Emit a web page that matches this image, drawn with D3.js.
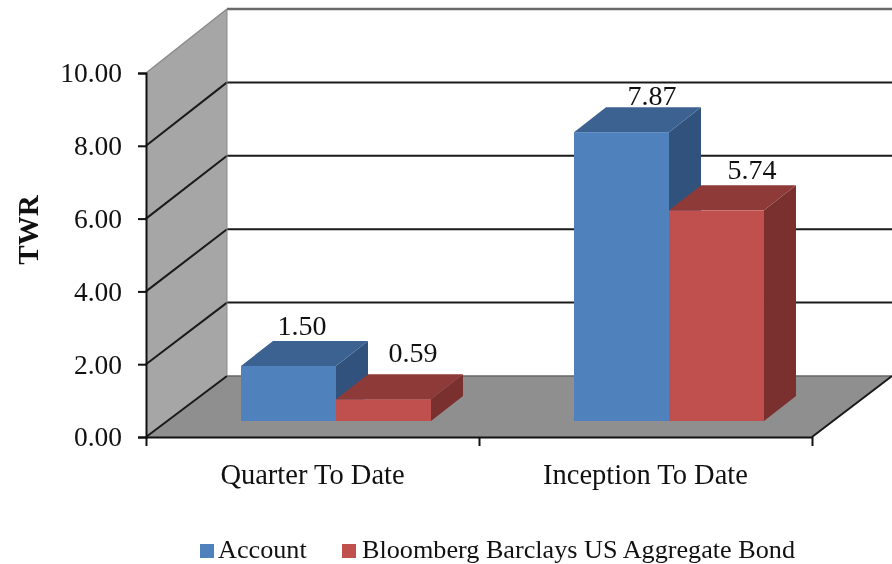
<!DOCTYPE html>
<html><head><meta charset="utf-8">
<script src="https://cdnjs.cloudflare.com/ajax/libs/d3/7.8.5/d3.min.js"></script>
<style>html,body{margin:0;background:#fff}svg{display:block;filter:blur(0.45px)}text{font-family:"Liberation Serif",serif;fill:#111}</style>
</head><body><svg id="c" width="892" height="564"></svg>
<script>
const categories=["Quarter To Date","Inception To Date"];
const seriesNames=["Account","Bloomberg Barclays US Aggregate Bond"];
const accountValues=[1.50,7.87];
const benchmarkValues=[0.59,5.74];
const yTicks=[0,2,4,6,8,10];
const front="#4f81bd",frontR="#c0504d";
const topC=["#3c6291","#8e3a38"],sideC=["#30527c","#7a302e"],frontC=[front,frontR];
const values=[accountValues,benchmarkValues];
// label nudges from the bar's centre, per series then category
const labelDx=[[13.5,30.5],[29.5,35.5]],labelDy=[[-6,-2],[-12,-6]];

const svg=d3.select("#c");
const yFront=d3.scaleLinear().domain([0,10]).range([437,73]);
const yBack=d3.scaleLinear().domain([0,10]).range([376,9]);
const yBar=d3.scaleLinear().domain([0,10]).range([421,54]);
const xAxisScale=d3.scalePoint().domain([0,1,2]).range([146,812]);
const xBand=d3.scaleBand().domain(categories).range([169.5,835.5]).paddingInner(0.4294).paddingOuter(0.2147);
const xInner=d3.scaleBand().domain(seriesNames).range([0,xBand.bandwidth()]);
const wallDx=81,barDx=32,barDy=25;
const pts=a=>a.map(p=>p.join(",")).join(" ");

svg.append("polygon").attr("points",pts([[146,yFront(10)],[146+wallDx,yBack(10)],[146+wallDx,yBack(0)],[146,yFront(0)]])).attr("fill","#a6a6a6");
svg.append("polygon").attr("points",pts([[146,yFront(0)],[812,yFront(0)],[892,yBack(0)],[146+wallDx,yBack(0)]])).attr("fill","#8f8f8f");

yTicks.forEach(t=>{
  const c=t===10?"#6a6a6a":"#1a1a1a";
  if(t>0) svg.append("line").attr("x1",146+wallDx).attr("x2",892).attr("y1",yBack(t)).attr("y2",yBack(t)).attr("stroke",c).attr("stroke-width",t===10?2.5:2);
  svg.append("line").attr("x1",146).attr("x2",146+wallDx).attr("y1",yFront(t)).attr("y2",yBack(t)).attr("stroke",t===10?"#8a8a8a":"#1a1a1a").attr("stroke-width",t===10?1.5:2);
});
svg.append("line").attr("x1",146+wallDx).attr("x2",146+wallDx).attr("y1",yBack(10)).attr("y2",yBack(0)).attr("stroke","#8a8a8a").attr("stroke-width",1);
svg.append("line").attr("x1",146+wallDx).attr("x2",892).attr("y1",yBack(0)).attr("y2",yBack(0)).attr("stroke","#666").attr("stroke-width",1.5);
svg.append("line").attr("x1",812).attr("x2",892).attr("y1",yFront(0)).attr("y2",yBack(0)).attr("stroke","#1a1a1a").attr("stroke-width",2);

const ax=svg.append("g").attr("transform","translate(146,0)").call(d3.axisLeft(yFront).tickValues(yTicks).tickFormat(d3.format(".2f")).tickSize(8).tickPadding(16));
ax.selectAll("path,line").attr("stroke","#111").attr("stroke-width",2);
ax.selectAll("text").attr("font-size",27.5);
const bx=svg.append("g").attr("transform","translate(0,437)").call(d3.axisBottom(xAxisScale).tickValues([0,1,2]).tickFormat("").tickSize(9).tickSizeOuter(0));
bx.selectAll("path,line").attr("stroke","#111").attr("stroke-width",2);

seriesNames.forEach((s,si)=>{
  categories.forEach((c,ci)=>{
    const v=values[si][ci],x0=xBand(c)+xInner(s),x1=x0+xInner.bandwidth(),yt=yBar(v),yb=yBar(0);
    const g=svg.append("g");
    g.append("polygon").attr("points",pts([[x1,yt],[x1+barDx,yt-barDy],[x1+barDx,yb-barDy],[x1,yb]])).attr("fill",sideC[si]);
    g.append("polygon").attr("points",pts([[x0,yt],[x0+barDx,yt-barDy],[x1+barDx,yt-barDy],[x1,yt]])).attr("fill",topC[si]);
    g.append("rect").attr("x",x0).attr("y",yt).attr("width",x1-x0).attr("height",yb-yt).attr("fill",frontC[si]);
  });
});
seriesNames.forEach((s,si)=>categories.forEach((c,ci)=>{
  const v=values[si][ci],x0=xBand(c)+xInner(s);
  svg.append("text").attr("x",x0+xInner.bandwidth()/2+labelDx[si][ci]).attr("y",yBar(v)-barDy+labelDy[si][ci]).attr("text-anchor","middle").attr("font-size",28).text(v.toFixed(2));
}));

categories.forEach((c,i)=>svg.append("text").attr("x",(xAxisScale(i)+xAxisScale(i+1))/2).attr("y",484).attr("text-anchor","middle").attr("font-size",28.5).text(c));

svg.append("text").attr("transform","translate(38,230) rotate(-90)").attr("text-anchor","middle").attr("font-size",29).attr("font-weight","bold").text("TWR");

const lx=[200,342],tx=[218,362];
seriesNames.forEach((s,i)=>{
  svg.append("rect").attr("x",lx[i]).attr("y",544).attr("width",14).attr("height",14).attr("fill",frontC[i]);
  svg.append("text").attr("x",tx[i]).attr("y",557.5).attr("font-size",26.2).text(s);
});
</script></body></html>
